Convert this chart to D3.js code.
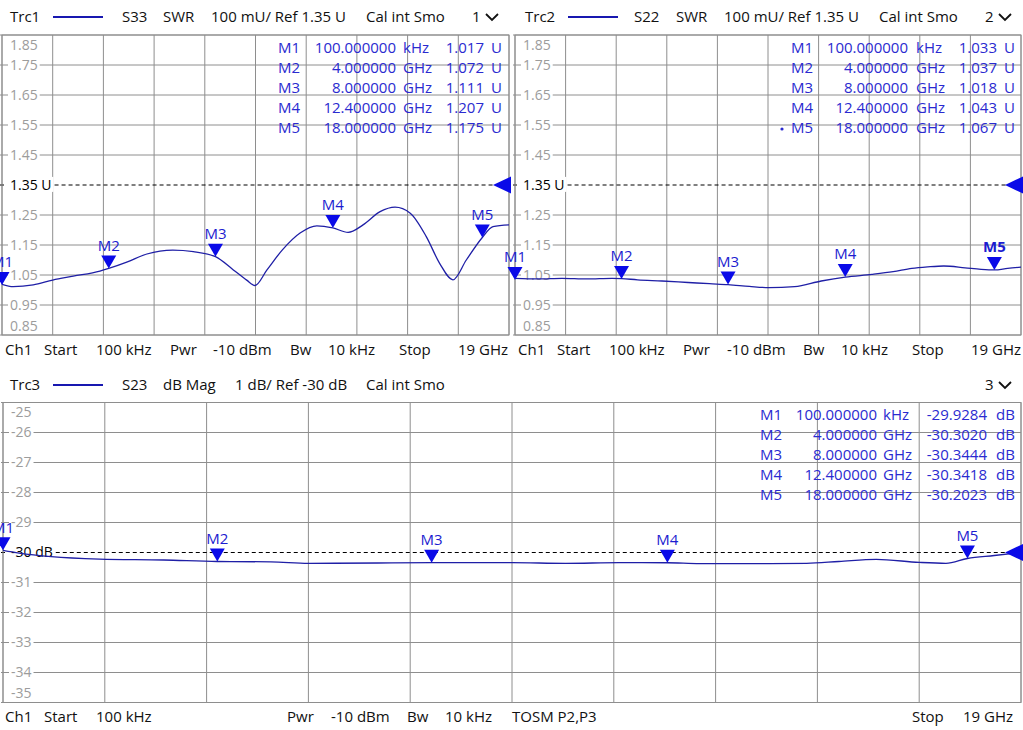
<!DOCTYPE html>
<html><head><meta charset="utf-8">
<script src="https://cdn.jsdelivr.net/npm/d3@7"></script>
<style>
body{margin:0;background:#fff}
svg{display:block;font-family:"Open Sans","Noto Sans",sans-serif}
</style>
</head><body>
<svg id="c" width="1023" height="730"></svg>
<script>
// ---------------- DATA ----------------
const freq1 = [0.0001,0.42,1.17,1.9,2.67,3.67,4.0,4.7,5.43,6.4,7.17,8.0,8.67,9.17,9.48,9.93,10.5,11.17,11.8,12.4,12.97,13.53,14.17,14.73,15.3,15.9,16.4,16.9,17.4,18.0,18.4,19.0];
const swr1  = [1.019,1.011,1.017,1.033,1.046,1.063,1.072,1.094,1.12,1.133,1.128,1.111,1.067,1.033,1.015,1.067,1.133,1.19,1.214,1.207,1.192,1.217,1.261,1.276,1.256,1.178,1.089,1.034,1.1,1.175,1.211,1.217];

const freq2 = [0.0001,0.9,1.76,2.7,3.64,4.0,4.6,5.52,6.5,7.3,8.0,8.8,9.54,10.5,11.5,12.4,13.4,14.2,14.9,15.5,16.1,16.9,17.5,18.0,18.5,19.0];
const swr2  = [1.039,1.037,1.039,1.037,1.039,1.038,1.034,1.03,1.025,1.021,1.018,1.012,1.008,1.011,1.03,1.043,1.052,1.061,1.072,1.077,1.08,1.074,1.069,1.067,1.072,1.076];

const freq3 = [0.0001,0.3,0.9,1.8,3.0,4.0,5.0,5.7,7.0,8.0,9.5,10.5,11.5,12.4,13.0,14.0,15.0,15.6,16.3,17.1,17.6,18.0,18.5,19.0];
const mag3  = [-29.93,-30.02,-30.14,-30.22,-30.25,-30.30,-30.31,-30.36,-30.35,-30.34,-30.34,-30.36,-30.34,-30.342,-30.37,-30.37,-30.36,-30.30,-30.23,-30.33,-30.36,-30.20,-30.10,-30.0];

const markerNames  = ["M1","M2","M3","M4","M5"];
const markerFreqs  = [0.0001,4,8,12.4,18];
const markerFreqTxt= ["100.000000","4.000000","8.000000","12.400000","18.000000"];
const markerUnits  = ["kHz","GHz","GHz","GHz","GHz"];
const markerVals1  = [1.017,1.072,1.111,1.207,1.175];
const markerVals2  = [1.033,1.037,1.018,1.043,1.067];
const markerVals3  = [-29.9284,-30.3020,-30.3444,-30.3418,-30.2023];

const yTicksSWR = [1.85,1.75,1.65,1.55,1.45,1.35,1.25,1.15,1.05,0.95,0.85];
const yTicksDB  = [-25,-26,-27,-28,-29,-30,-31,-32,-33,-34,-35];

const header1 = ["Trc1","S33","SWR","100 mU/ Ref 1.35 U","Cal int Smo","1"];
const header2 = ["Trc2","S22","SWR","100 mU/ Ref 1.35 U","Cal int Smo","2"];
const header3 = ["Trc3","S23","dB Mag","1 dB/ Ref -30 dB","Cal int Smo","3"];
const footerTop = ["Ch1","Start","100 kHz","Pwr","-10 dBm","Bw","10 kHz","Stop","19 GHz"];
const footerBot = ["Ch1","Start","100 kHz","Pwr","-10 dBm","Bw","10 kHz","TOSM P2,P3","Stop","19 GHz"];

// ---------------- STYLE ----------------
const C = {grid:"#8e8e8e", tick:"#9c9c9c", trace:"#1f1fa6", marker:"#0a0ae8", mtext:"#1c1cd0", table:"#2a2ad0"};
const svg = d3.select("#c");
const F0 = 0.0001, F1 = 19;

function drawPanel(p){
  const g = svg.append("g");
  const x = d3.scaleLinear().domain([F0,F1]).range([p.x0,p.x1]);
  const y = d3.scaleLinear().domain([d3.min(p.ticks), d3.max(p.ticks)]).range([p.y1,p.y0]);
  const fStep = (F1-F0)/10;
  g.selectAll(".vg").data(d3.range(11)).join("line")
    .attr("x1",i=>x(F0+i*fStep)).attr("x2",i=>x(F0+i*fStep))
    .attr("y1",p.y0).attr("y2",p.y1).attr("stroke",C.grid).attr("stroke-width",1);
  g.selectAll(".hg").data(p.ticks.filter(v=>v!==p.ref)).join("line")
    .attr("x1",p.x0-2).attr("x2",p.x1).attr("y1",v=>y(v)).attr("y2",v=>y(v))
    .attr("stroke",C.grid).attr("stroke-width",1);
  const maxT=d3.max(p.ticks), minT=d3.min(p.ticks);
  p.ticks.forEach(v=>{
    const isRef = v===p.ref;
    let yy = y(v); if(v===maxT) yy += 10; if(v===minT) yy -= 9;
    const t = g.append("text").attr("x",p.x0+8).attr("y",yy).attr("dy","0.35em")
      .attr("font-size",14).attr("fill",isRef?"#000":C.tick)
      .text(isRef? p.refLabel : p.fmt(v));
    const b = t.node().getBBox();
    if(v!==maxT && v!==minT){
      g.insert("rect",()=>t.node()).attr("x",b.x-2).attr("y",b.y+2).attr("width",b.width+4).attr("height",b.height-4).attr("fill","#fff");
    }
    if(isRef){
      g.append("line").attr("x1",p.x0-2).attr("x2",p.x0+5).attr("y1",y(v)).attr("y2",y(v))
        .attr("stroke","#000").attr("stroke-dasharray","4,3");
      g.append("line").attr("x1",b.x+b.width+3).attr("x2",p.x1).attr("y1",y(v)).attr("y2",y(v))
        .attr("stroke","#000").attr("stroke-dasharray","4,3");
    }
  });
  g.append("rect").attr("x",p.x0).attr("y",p.y0).attr("width",p.x1-p.x0).attr("height",p.y1-p.y0)
    .attr("fill","none").attr("stroke",C.grid);
  const clipId = "clip"+p.id;
  svg.append("clipPath").attr("id",clipId).append("rect")
    .attr("x",p.x0).attr("y",p.y0).attr("width",p.x1-p.x0).attr("height",p.y1-p.y0);
  const line = d3.line().x(d=>x(d[0])).y(d=>y(d[1])).curve(d3.curveMonotoneX);
  g.append("path").datum(p.freqs.map((f,i)=>[f,p.vals[i]]))
    .attr("d",line).attr("fill","none").attr("stroke",C.trace).attr("stroke-width",1.3)
    .attr("clip-path",`url(#${clipId})`);
  const ry = y(p.ref);
  g.append("path").attr("d",`M${p.x1-16},${ry} L${p.x1+2},${ry-8.5} L${p.x1+2},${ry+8.5} Z`).attr("fill",C.marker);
  markerFreqs.forEach((f,i)=>{
    const mx = x(f), my = y(p.mvals[i]);
    g.append("path").attr("d",`M${mx},${my} L${mx-7.5},${my-13} L${mx+7.5},${my-13} Z`).attr("fill",C.marker);
    g.append("text").attr("x",mx).attr("y",my-23).attr("dy","0.35em").attr("text-anchor","middle")
      .attr("font-size",15).attr("fill",C.mtext).attr("font-weight",(p.bold===i)?"bold":"normal")
      .text(markerNames[i]);
  });
  markerNames.forEach((m,i)=>{
    const ty = p.tableY + i*20;
    const T = (tx,txt,anchor)=>g.append("text").attr("x",tx).attr("y",ty).attr("dy","0.35em")
      .attr("font-size",15).attr("fill",C.table).attr("text-anchor",anchor).text(txt);
    T(p.tx[0],m,"start");
    T(p.tx[1],markerFreqTxt[i],"end");
    T(p.tx[2],markerUnits[i],"start");
    T(p.tx[3],p.tfmt(p.mvals[i]),"end");
    T(p.tx[4],p.unit,"start");
    if(p.bold===i) g.append("circle").attr("cx",p.tx[0]-9).attr("cy",ty+1).attr("r",1.6).attr("fill",C.table);
  });
  const hy = p.headY, hx = p.headX;
  p.header.forEach((h,i)=>{
    g.append("text").attr("x",hx[i]).attr("y",hy).attr("dy","0.35em").attr("font-size",15).attr("fill","#111").text(h);
  });
  g.append("line").attr("x1",hx[0]+43).attr("x2",hx[0]+93).attr("y1",hy).attr("y2",hy).attr("stroke","#1818b0").attr("stroke-width",2);
  const cx = hx[5]+20;
  g.append("path").attr("d",`M${cx-6},${hy-3} L${cx},${hy+3} L${cx+6},${hy-3}`).attr("fill","none").attr("stroke","#111").attr("stroke-width",1.8);
  p.footer.forEach((t,i)=>{
    g.append("text").attr("x",p.footX[i]).attr("y",p.footY).attr("dy","0.35em").attr("font-size",15).attr("fill","#111").text(t);
  });
}

const fmt2 = d=>d.toFixed(2);
drawPanel({id:1,x0:2,x1:509,y0:35,y1:335,ticks:yTicksSWR,ref:1.35,refLabel:"1.35 U",fmt:fmt2,
  freqs:freq1,vals:swr1,mvals:markerVals1,bold:-1,tableY:48,tx:[278,396,403,484,491],tfmt:d=>d.toFixed(3),unit:"U",
  header:header1,headX:[10,122,163,211,366,472],headY:17,footer:footerTop,
  footX:[5,44,96,170,213,290,328,399,458],footY:350});
drawPanel({id:2,x0:515,x1:1021,y0:35,y1:335,ticks:yTicksSWR,ref:1.35,refLabel:"1.35 U",fmt:fmt2,
  freqs:freq2,vals:swr2,mvals:markerVals2,bold:4,tableY:48,tx:[791,908,916,997,1004],tfmt:d=>d.toFixed(3),unit:"U",
  header:header2,headX:[525,634,676,724,879,985],headY:17,footer:footerTop,
  footX:[518,557,609,683,727,803,841,912,971],footY:350});
drawPanel({id:3,x0:3,x1:1021,y0:402.5,y1:702.5,ticks:yTicksDB,ref:-30,refLabel:"-30 dB",fmt:d=>String(d),
  freqs:freq3,vals:mag3,mvals:markerVals3,bold:-1,tableY:415,tx:[760,877,883,987,996],tfmt:d=>d.toFixed(4),unit:"dB",
  header:header3,headX:[10,122,163,235,366,985],headY:385,footer:footerBot,
  footX:[5,44,96,287,331,407,445,512,912,963],footY:717});
</script>
</body></html>
